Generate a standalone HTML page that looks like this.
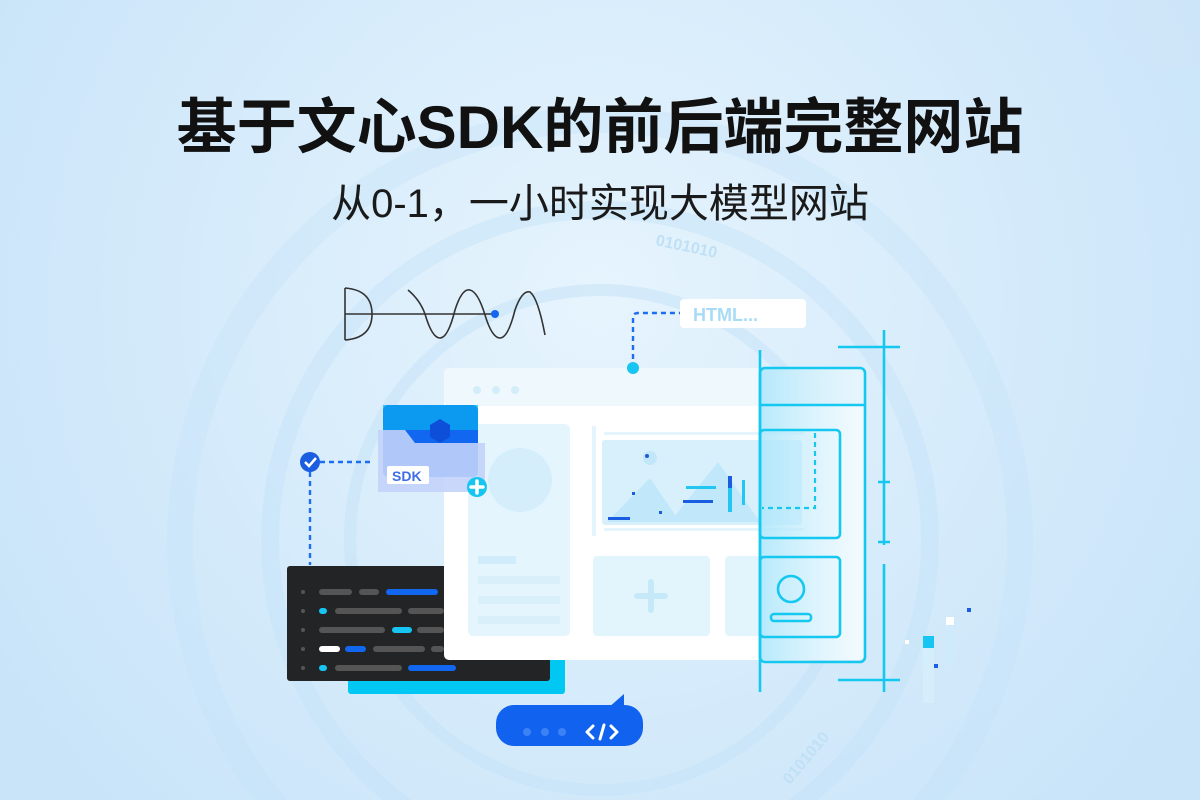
<!DOCTYPE html>
<html><head><meta charset="utf-8"><style>
html,body{margin:0;padding:0;width:1200px;height:800px;overflow:hidden}
body{background:#d8ecfb;position:relative;font-family:"Liberation Sans","Noto Sans CJK SC",sans-serif}
.t{position:absolute;left:0;width:1200px;text-align:center;color:#111;white-space:nowrap}
</style></head><body>
<svg width="1200" height="800" style="position:absolute;left:0;top:0">
<defs>
<radialGradient id="bg" cx="600" cy="300" r="700" gradientUnits="userSpaceOnUse">
<stop offset="0" stop-color="#e6f4fd"/><stop offset="1" stop-color="#c9e4f9"/></radialGradient>
<linearGradient id="cy" x1="0" y1="0" x2="1" y2="0"><stop offset="0" stop-color="#aee7fb" stop-opacity=".9"/><stop offset="1" stop-color="#d8f0fc" stop-opacity=".3"/></linearGradient>
</defs>
<rect width="1200" height="800" fill="url(#bg)"/>
<circle cx="1170" cy="10" r="60" fill="#cfe6f8" opacity=".5"/>
<g fill="none" stroke="#c4e2f8">
<circle cx="600" cy="540" r="420" stroke-width="26" opacity=".35"/>
<circle cx="600" cy="540" r="330" stroke-width="18" opacity=".45"/>
<circle cx="600" cy="540" r="250" stroke-width="12" opacity=".5"/>
</g>
<text x="655" y="245" font-size="16" fill="#bfe0f5" font-weight="bold" transform="rotate(12 655 245)" font-family="Liberation Sans">0101010</text>
<text x="790" y="785" font-size="16" fill="#bfe0f5" font-weight="bold" transform="rotate(-50 790 785)" font-family="Liberation Sans">0101010</text>
<g fill="none" stroke="#333" stroke-width="1.6">
<path d="M345 288 L345 340 M345 288 Q372 290 372 314 Q372 338 345 340"/>
<path d="M345 314 L495 314"/>
<path d="M408 290 Q420 300 425 314 Q432 338 440 338 Q448 338 455 310 Q462 288 470 290 Q478 292 485 315 Q492 338 500 338 Q508 338 515 310 Q522 290 530 292 Q538 298 545 335"/>
</g>
<circle cx="495" cy="314" r="4" fill="#1465f0"/>
<path d="M633 368 V318 Q633 313 638 313 H680" stroke="#1d6ef2" stroke-width="2.4" stroke-dasharray="5 4" fill="none"/>
<rect x="680" y="299" width="126" height="29" rx="4" fill="#fff"/>
<text x="693" y="321" font-size="18" font-weight="bold" fill="#a7dcf6" font-family="Liberation Sans">HTML...</text>
<rect x="348" y="600" width="217" height="94" rx="3" fill="#00c8f2"/>
<rect x="287" y="566" width="263" height="115" rx="3" fill="#222426"/>
<g fill="#555"><circle cx="303" cy="592" r="2"/><circle cx="303" cy="611" r="2"/><circle cx="303" cy="630" r="2"/><circle cx="303" cy="649" r="2"/><circle cx="303" cy="668" r="2"/>
<rect x="319" y="589" width="33" height="6" rx="3"/><rect x="359" y="589" width="20" height="6" rx="3"/>
<rect x="335" y="608" width="67" height="6" rx="3"/><rect x="408" y="608" width="36" height="6" rx="3"/>
<rect x="319" y="627" width="66" height="6" rx="3"/><rect x="417" y="627" width="27" height="6" rx="3"/>
<rect x="373" y="646" width="52" height="6" rx="3"/><rect x="431" y="646" width="13" height="6" rx="3"/>
<rect x="335" y="665" width="67" height="6" rx="3"/></g>
<rect x="386" y="589" width="52" height="6" rx="3" fill="#1267f0"/>
<rect x="319" y="608" width="8" height="6" rx="3" fill="#16c5f2"/>
<rect x="392" y="627" width="20" height="6" rx="3" fill="#16c5f2"/>
<rect x="319" y="646" width="21" height="6" rx="3" fill="#fff"/>
<rect x="345" y="646" width="21" height="6" rx="3" fill="#1267f0"/>
<rect x="319" y="665" width="8" height="6" rx="3" fill="#16c5f2"/>
<rect x="408" y="665" width="48" height="6" rx="3" fill="#1267f0"/>
<rect x="444" y="368" width="420" height="292" rx="5" fill="#fff"/>
<rect x="444" y="368" width="420" height="38" rx="5" fill="#eef8fd"/>
<circle cx="633" cy="368" r="6" fill="#16c5f2"/>
<circle cx="477" cy="390" r="4" fill="#d3edfa"/><circle cx="496" cy="390" r="4" fill="#d3edfa"/><circle cx="515" cy="390" r="4" fill="#d3edfa"/>
<rect x="468" y="424" width="102" height="212" rx="5" fill="#e4f5fd"/>
<circle cx="520" cy="480" r="32" fill="#d5eefb"/>
<rect x="478" y="556" width="38" height="8" fill="#d0ecfa"/>
<rect x="478" y="576" width="82" height="8" fill="#d9f0fb"/>
<rect x="478" y="596" width="82" height="8" fill="#d9f0fb"/>
<rect x="478" y="616" width="82" height="8" fill="#d9f0fb"/>
<rect x="592" y="426" width="4" height="110" fill="#e4f5fd"/>
<rect x="602" y="440" width="200" height="85" rx="3" fill="#d7f0fc"/>
<rect x="604" y="432" width="200" height="3" fill="#e4f5fd"/><rect x="604" y="528" width="200" height="3" fill="#e4f5fd"/>
<path d="M607 522 L650 478 L680 522Z M670 522 L718 462 L760 522Z" fill="#c1e8fa"/>
<circle cx="650" cy="458" r="7" fill="#c2e6fa"/><circle cx="647" cy="456" r="2" fill="#1a5de0"/>
<g fill="#1a5de0"><rect x="608" y="517" width="22" height="3"/><rect x="683" y="500" width="30" height="3"/><rect x="728" y="476" width="4" height="12"/><rect x="632" y="492" width="3" height="3"/><rect x="659" y="511" width="3" height="3"/></g>
<g fill="#22c6f0"><rect x="686" y="486" width="30" height="3"/><rect x="728" y="488" width="4" height="24"/><rect x="742" y="480" width="3" height="25"/></g>
<rect x="593" y="556" width="117" height="80" rx="4" fill="#e2f5fd"/>
<path d="M651 582 V610 M637 596 H665" stroke="#c6e9f9" stroke-width="6" stroke-linecap="round"/>
<rect x="725" y="556" width="40" height="80" rx="4" fill="#e2f5fd"/>
<rect x="760" y="368" width="105" height="292" fill="url(#cy)"/>
<g fill="none" stroke="#15c8f0" stroke-width="2.6">
<path d="M760 350 V692"/>
<rect x="760" y="368" width="105" height="294" rx="5"/>
<path d="M760 405 H865"/>
<rect x="760" y="430" width="80" height="108" rx="4"/>
<rect x="760" y="557" width="80" height="80" rx="4"/>
<circle cx="791" cy="589" r="13"/>
<rect x="771" y="614" width="40" height="7" rx="3"/>
<path d="M815 433 V508 H762" stroke-dasharray="5 4" stroke-width="2.2"/>
<path d="M884 330 V545 M838 347 H900 M884 482 V542 M878 482 H890 M878 542 H890 M884 564 V692 M838 680 H900"/>
</g>
<rect x="923" y="636" width="11" height="12" fill="#16c5f2"/>
<rect x="923" y="648" width="11" height="55" fill="#d4eefb"/>
<rect x="946" y="617" width="8" height="8" fill="#fff"/>
<rect x="946" y="625" width="8" height="45" fill="#cfeafb"/>
<rect x="967" y="608" width="4" height="4" fill="#1a5de0"/>
<rect x="934" y="664" width="4" height="4" fill="#1a5de0"/>
<rect x="905" y="640" width="4" height="4" fill="#fff"/>
<path d="M310 472 V565 M320 462 H372" stroke="#1d6ef2" stroke-width="2.4" stroke-dasharray="5 4" fill="none"/>
<circle cx="310" cy="462" r="10" fill="#1a5de0"/>
<path d="M305 462 L309 466 L316 458" stroke="#fff" stroke-width="2.5" fill="none"/>
<rect x="383" y="405" width="95" height="72" rx="5" fill="#1267f0"/>
<path d="M383 405 H478 V430 H383Z" fill="#0ab1f0" opacity=".7"/>
<path d="M430 425 l10 -6 10 6 v12 l-10 6 -10 -6z" fill="#0d4fd8"/>
<path d="M378 430 H405 L415 443 H485 V492 H378Z" fill="#c2d3fa" opacity=".9"/>
<rect x="387" y="466" width="42" height="18" rx="2" fill="#fff"/>
<text x="392" y="481" font-size="14" font-weight="bold" fill="#3f6ee8" font-family="Liberation Sans">SDK</text>
<circle cx="477" cy="487" r="10" fill="#16c5f2"/>
<path d="M477 481 V493 M471 487 H483" stroke="#fff" stroke-width="3.5" stroke-linecap="round"/>
<rect x="496" y="705" width="147" height="41" rx="18" fill="#1262f0"/>
<path d="M608 708 L624 694 L624 712Z" fill="#1262f0"/>
<g fill="#3c82f5"><circle cx="527" cy="732" r="4"/><circle cx="545" cy="732" r="4"/><circle cx="562" cy="732" r="4"/></g>
<path d="M593 726 L587 732 L593 738 M611 726 L617 732 L611 738 M604 725 L600 739" stroke="#fff" stroke-width="3" fill="none" stroke-linecap="round" stroke-linejoin="round"/>
</svg>
<div class="t" style="top:90px;font-size:60px;font-weight:bold;line-height:76px">基于文心SDK的前后端完整网站</div>
<div class="t" style="top:180px;font-size:40px;line-height:48px;color:#1a1a1a">从0-1，一小时实现大模型网站</div>
</body></html>
